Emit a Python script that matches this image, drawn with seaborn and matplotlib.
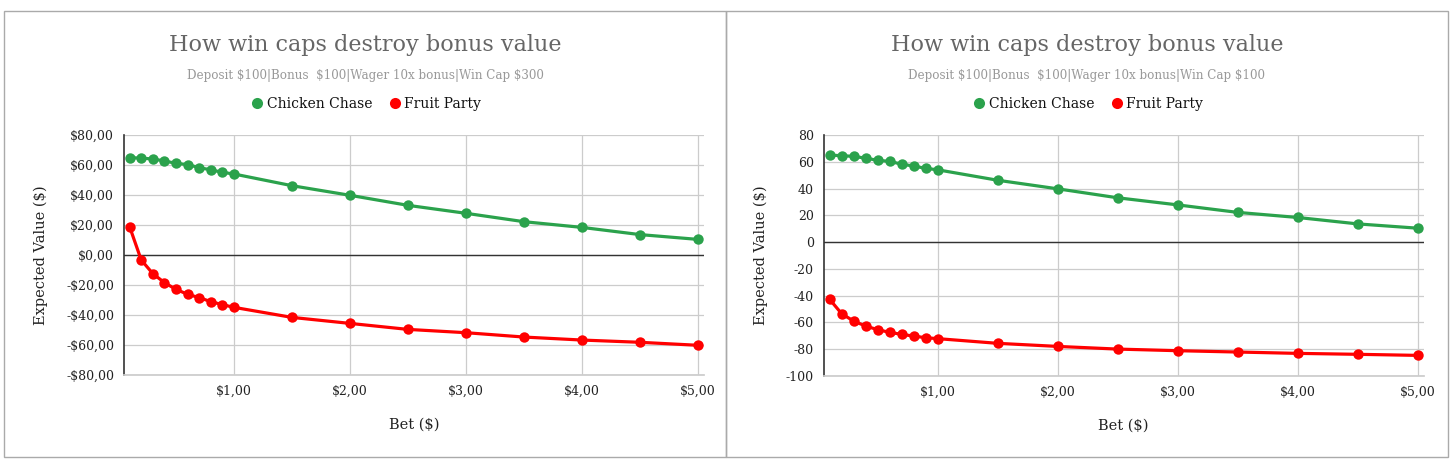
import pandas as pd
import matplotlib.pyplot as plt
import seaborn as sns
from matplotlib.lines import Line2D
from matplotlib.patches import Rectangle
from matplotlib.ticker import FuncFormatter, MultipleLocator

# Values
bets = [0.1, 0.2, 0.3, 0.4, 0.5, 0.6, 0.7, 0.8, 0.9, 1.0,
        1.5, 2.0, 2.5, 3.0, 3.5, 4.0, 4.5, 5.0]
chicken_chase = [64.9, 64.6, 64.0, 62.7, 61.1, 60.3, 58.2, 56.8, 55.1, 54.0,
                 46.2, 39.8, 33.1, 27.8, 22.2, 18.4, 13.6, 10.4]
fruit_party_cap300 = [18.9, -3.3, -12.4, -18.4, -22.9, -26.2, -28.4, -31.1, -33.1, -34.9,
                      -41.6, -45.6, -49.6, -51.8, -54.7, -56.7, -58.2, -60.2]
fruit_party_cap100 = [-42.8, -53.5, -59.0, -62.7, -65.4, -67.4, -68.9, -70.2, -71.4, -72.1,
                      -75.6, -77.9, -79.9, -81.1, -82.1, -83.1, -83.8, -84.6]

title = "How win caps destroy bonus value"
subtitles = ["Deposit \\$100|Bonus  \\$100|Wager 10x bonus|Win Cap \\$300",
             "Deposit \\$100|Bonus  \\$100|Wager 10x bonus|Win Cap \\$100"]
games = ["Chicken Chase", "Fruit Party"]
colors = {"Chicken Chase": "#2ba24c", "Fruit Party": "#ff0000"}

sns.set_theme(style="whitegrid")
plt.rcParams['font.family'] = ['DejaVu Serif']


def make_frame(fruit):
    df = pd.DataFrame({"bet": bets * 2,
                       "ev": chicken_chase + fruit,
                       "game": [games[0]] * len(bets) + [games[1]] * len(bets)})
    return df


def dollar(v, pos=None):
    if v < 0:
        return f"-\\${abs(v):.0f},00"
    return f"\\${v:.0f},00"


fig = plt.figure(figsize=(14.56, 4.68), dpi=100)
W, H = 1456, 468

# panel borders
for x0 in (4, 726):
    fig.patches.append(Rectangle((x0 / W, 1 - 457 / H), 722 / W, 446 / H,
                                 transform=fig.transFigure, fill=False,
                                 edgecolor="#aaaaaa", linewidth=1.0))

panels = [
    dict(fruit=fruit_party_cap300, rect=(123.8, 135, 703.8, 375), ylim=(-80, 80),
         yfmt=FuncFormatter(dollar), center=365),
    dict(fruit=fruit_party_cap100, rect=(823.7, 135, 1423.7, 376), ylim=(-100, 80),
         yfmt=FuncFormatter(lambda v, p: f"{v:.0f}"), center=1087),
]

for i, p in enumerate(panels):
    x0, y0, x1, y1 = p["rect"]
    ax = fig.add_axes([x0 / W, 1 - y1 / H, (x1 - x0) / W, (y1 - y0) / H])
    df = make_frame(p["fruit"])
    sns.lineplot(data=df, x="bet", y="ev", hue="game", palette=colors,
                 marker="o", markersize=7.5, markeredgewidth=0, linewidth=2.3,
                 legend=False, ax=ax, zorder=3)
    ax.set_xlim(0.05, 5.05)
    ax.set_ylim(*p["ylim"])
    ax.xaxis.set_major_locator(MultipleLocator(1))
    ax.yaxis.set_major_locator(MultipleLocator(20))
    ax.xaxis.set_major_formatter(FuncFormatter(lambda v, pos: "" if v < 0.5 else dollar(v)))
    ax.yaxis.set_major_formatter(p["yfmt"])
    ax.grid(True, color="#cccccc", linewidth=0.9)
    ax.axhline(0, color="#333333", linewidth=1.0, zorder=2)
    for s in ("top", "right"):
        ax.spines[s].set_visible(False)
    ax.spines["bottom"].set_color("#cccccc")
    ax.spines["left"].set_color("#333333")
    ax.spines["left"].set_linewidth(1.2)
    ax.tick_params(length=0, labelsize=9, labelcolor="#222222", pad=7)
    ax.set_xlabel("Bet (\\$)", fontsize=10.5, color="#222222", labelpad=14)
    ax.set_ylabel("Expected Value (\\$)", fontsize=10.5, color="#222222", labelpad=13)

    cx = p["center"] / W
    fig.text(cx, 1 - 45 / H, title, ha="center", va="center", fontsize=16, color="#666666")
    fig.text(cx, 1 - 75 / H, subtitles[i], ha="center", va="center", fontsize=8.6, color="#999999")
    handles = [Line2D([], [], marker="o", linestyle="none", markersize=8,
                      markeredgewidth=0, color=colors[g]) for g in games]
    fig.legend(handles, games, loc="center", bbox_to_anchor=(cx, 1 - 104 / H),
               ncol=2, frameon=False, fontsize=10, handletextpad=0.1,
               columnspacing=1.0, handlelength=1.2, labelcolor="#111111")

fig.savefig("out.png", dpi=100)
